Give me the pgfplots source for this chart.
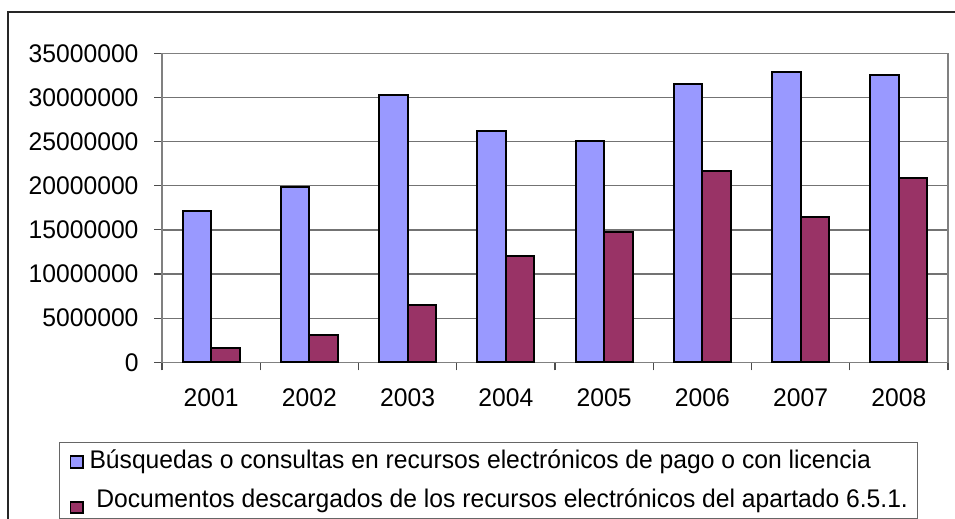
\documentclass[border=0pt]{standalone}
\usepackage{fontspec}
\setmainfont{Liberation Sans}[FakeStretch=0.967]
\usepackage{pgfplots}
\pgfplotsset{compat=1.18}
\definecolor{busq}{HTML}{9999FF}
\definecolor{docs}{HTML}{993366}
\pgfplotsset{
  legA/.style={legend image code/.code={\path[draw=none,fill=none] (0bp,-7bp) -- (20bp,-7bp);
    \draw[##1, draw=black, line width=1.8bp] (0.9bp,-7.1bp) rectangle (13.1bp,4.4bp);}},
  legB/.style={legend image code/.code={\path[draw=none,fill=none] (0bp,-7bp) -- (20bp,-7bp);
    \draw[##1, draw=black, line width=1.8bp] (0.9bp,-13.1bp) rectangle (13.1bp,-1.6bp);}},
}
\begin{document}
\begin{tikzpicture}
\useasboundingbox (0,0) rectangle (955bp,519bp);
\draw[line width=1.3bp, black!85] (8bp,-5bp) -- (8bp,507bp) -- (962bp,507bp);
\begin{axis}[
  at={(162bp,156.7bp)}, anchor=south west,
  scale only axis, width=786bp, height=309bp,
  ymin=0, ymax=35000000,
  ytick={0,5000000,...,35000000},
  xmin=-0.5, xmax=7.5,
  xtick={0,...,7},
  xticklabels={2001,2002,2003,2004,2005,2006,2007,2008},
  minor xtick={-0.5,0.5,...,7.5},
  major x tick style={draw=none},
  minor tick length=8bp,
  major tick length=8bp,
  tick align=outside,
  tick style={black!70, line width=1.2bp},
  xtick pos=bottom, ytick pos=left,
  scaled y ticks=false,
  /pgf/number format/assume math mode=true,
  yticklabel={\pgfmathprintnumber[fixed,1000 sep={},precision=0]{\tick}},
  tick label style={font=\fontsize{25.6}{30}\selectfont},
  xticklabel style={yshift=-14.5bp},
  yticklabel style={xshift=-12bp},
  ymajorgrids,
  major grid style={black!55, line width=1.3bp},
  axis line style={black!50, line width=1.3bp},
  ybar=0pt, bar width=28.5bp,
  legend style={draw=black!60, line width=1bp,
    at={(rel axis cs:-0.1310,-0.2580)}, anchor=north west,
    font=\fontsize{25.6}{30}\selectfont,
    inner xsep=10bp, inner ysep=3bp, row sep=9.2bp,
    nodes={inner sep=0pt, text height=22.6bp, text depth=7.6bp}},
  legend cell align=left,
]
\addplot[fill=busq, draw=black, line width=2bp, legA] coordinates {
  (0,17170000) (1,19900000) (2,30270000) (3,26200000)
  (4,25060000) (5,31480000) (6,32880000) (7,32500000)};
\addplot[fill=docs, draw=black, line width=2bp, legB] coordinates {
  (0,1590000) (1,3090000) (2,6490000) (3,12040000)
  (4,14760000) (5,21630000) (6,16490000) (7,20900000)};
\legend{Búsquedas o consultas en recursos electrónicos de pago o con licencia,
  \ Documentos descargados de los recursos electrónicos del apartado 6.5.1.}
\end{axis}
\end{tikzpicture}
\end{document}
